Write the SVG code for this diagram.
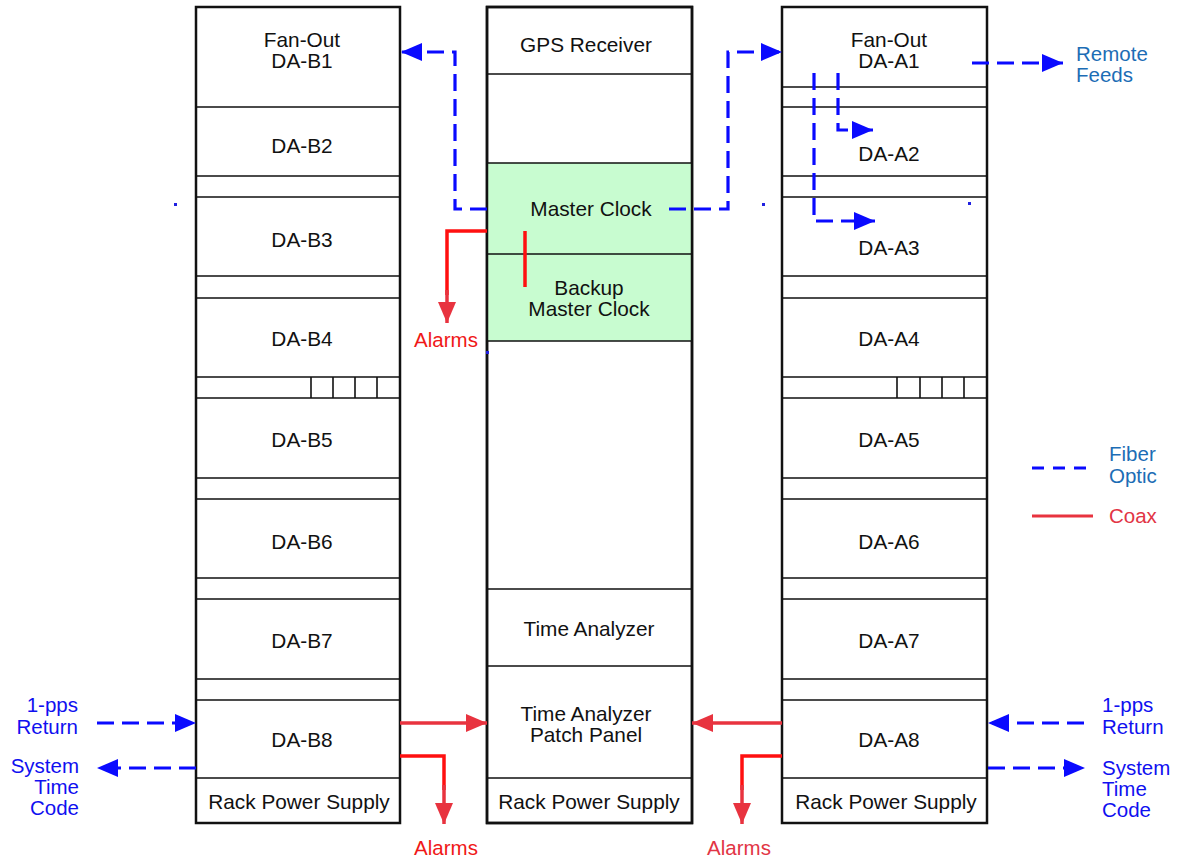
<svg xmlns="http://www.w3.org/2000/svg" width="1179" height="862" viewBox="0 0 1179 862">
<defs>
<style>
.frame{fill:none;stroke:#111;stroke-width:2.5}
.div{stroke:#111;stroke-width:1.6;fill:none}
.t{font-family:"Liberation Sans",Arial,Helvetica,sans-serif;font-size:20.8px;fill:#111;text-anchor:middle}
.lb{font-family:"Liberation Sans",Arial,Helvetica,sans-serif;font-size:20.5px;fill:#1010f0}
.lbs{font-family:"Liberation Sans",Arial,Helvetica,sans-serif;font-size:20.5px;fill:#1c6db5}
.lr{font-family:"Liberation Sans",Arial,Helvetica,sans-serif;font-size:20.5px;fill:#f01818;text-anchor:middle}
.lrc{font-family:"Liberation Sans",Arial,Helvetica,sans-serif;font-size:20.5px;fill:#e23545}
.fiber{fill:none;stroke:#0a0aff;stroke-width:3.2;stroke-dasharray:17 8}
.coax{fill:none;stroke:#e8333f;stroke-width:3.5}
.coaxb{fill:none;stroke:#ff1010;stroke-width:3.5}
</style>
<marker id="ab" markerUnits="userSpaceOnUse" markerWidth="22" markerHeight="20" refX="21" refY="9" orient="auto"><path d="M0,0 L21,9 L0,18 z" fill="#0a0aff"/></marker>
<marker id="ar" markerUnits="userSpaceOnUse" markerWidth="22" markerHeight="20" refX="21" refY="9" orient="auto"><path d="M0,0 L21,9 L0,18 z" fill="#e8333f"/></marker>
</defs>
<rect width="1179" height="862" fill="#fff"/>

<g id="rack-b">
<rect x="196" y="7" width="204" height="816" fill="#fff" class="frame"/>
<path class="div" d="M196,107H400M196,176H400M196,197H400M196,276H400M196,298H400M196,377H400M196,398H400M196,478H400M196,499H400M196,578H400M196,599H400M196,679H400M196,700H400M196,778H400M311,377V398M333,377V398M355,377V398M377,377V398"/>
<text class="t" x="302" y="47">Fan-Out</text><text class="t" x="302" y="68">DA-B1</text>
<text class="t" x="302" y="153">DA-B2</text>
<text class="t" x="302" y="247">DA-B3</text>
<text class="t" x="302" y="346">DA-B4</text>
<text class="t" x="302" y="447">DA-B5</text>
<text class="t" x="302" y="549">DA-B6</text>
<text class="t" x="302" y="648">DA-B7</text>
<text class="t" x="302" y="747">DA-B8</text>
<text class="t" x="299" y="809">Rack Power Supply</text>
</g>

<g id="rack-master">
<rect x="487" y="7" width="205" height="816" fill="#fff" class="frame"/>
<rect x="487" y="163" width="205" height="178" fill="#c8fcd0"/>
<path class="div" d="M487,74H692M487,163H692M487,254H692M487,341H692M487,589H692M487,666H692M487,778H692"/>
<rect x="487" y="7" width="205" height="816" class="frame"/>
<text class="t" x="586" y="52">GPS Receiver</text>
<text class="t" x="591" y="216">Master Clock</text>
<text class="t" x="589" y="295">Backup</text><text class="t" x="589" y="316">Master Clock</text>
<text class="t" x="589" y="636">Time Analyzer</text>
<text class="t" x="586" y="721">Time Analyzer</text><text class="t" x="586" y="742">Patch Panel</text>
<text class="t" x="589" y="809">Rack Power Supply</text>
</g>

<g id="rack-a">
<rect x="782" y="7" width="205" height="816" fill="#fff" class="frame"/>
<path class="div" d="M782,87H987M782,107H987M782,176H987M782,197H987M782,276H987M782,298H987M782,377H987M782,398H987M782,478H987M782,499H987M782,578H987M782,599H987M782,679H987M782,700H987M782,778H987M897,377V398M920,377V398M942,377V398M964,377V398"/>
<text class="t" x="889" y="47">Fan-Out</text><text class="t" x="889" y="68">DA-A1</text>
<text class="t" x="889" y="161">DA-A2</text>
<text class="t" x="889" y="255">DA-A3</text>
<text class="t" x="889" y="346">DA-A4</text>
<text class="t" x="889" y="447">DA-A5</text>
<text class="t" x="889" y="549">DA-A6</text>
<text class="t" x="889" y="648">DA-A7</text>
<text class="t" x="889" y="747">DA-A8</text>
<text class="t" x="886" y="809">Rack Power Supply</text>
</g>

<g id="connectors">
<path class="fiber" d="M487,209H455V52H401" marker-end="url(#ab)"/>
<path class="fiber" d="M669,209H728V52H782" marker-end="url(#ab)"/>
<path class="fiber" d="M838,73V130H873" marker-end="url(#ab)"/>
<path class="fiber" d="M814,73V221H875" marker-end="url(#ab)"/>
<path class="fiber" d="M972,63H1063" marker-end="url(#ab)"/>
<path class="fiber" d="M97,723H196" marker-end="url(#ab)"/>
<path class="fiber" d="M196,768H97" marker-end="url(#ab)"/>
<path class="fiber" d="M1084,723H988" marker-end="url(#ab)"/>
<path class="fiber" d="M988,768H1085" marker-end="url(#ab)"/>
<path class="coaxb" d="M487,231H447V295"/>
<path class="coax" d="M447,290V323" marker-end="url(#ar)"/>
<path class="coaxb" d="M525,231V287"/>
<path class="coax" d="M400,723H487" marker-end="url(#ar)"/>
<path class="coax" d="M782,723H692" marker-end="url(#ar)"/>
<path class="coaxb" d="M400,756H444V790"/>
<path class="coax" d="M444,785V824" marker-end="url(#ar)"/>
<path class="coaxb" d="M782,756H742V790"/>
<path class="coax" d="M742,785V824" marker-end="url(#ar)"/>
<rect x="174" y="203" width="3" height="3" fill="#2020e0"/>
<rect x="762" y="203" width="3" height="3" fill="#2020e0"/>
<rect x="968" y="202" width="3" height="3" fill="#2020e0"/>
<rect x="486" y="351" width="3" height="3" fill="#2020e0"/>
</g>

<g id="labels">
<text class="lr" x="446" y="347">Alarms</text>
<text class="lr" x="446" y="855">Alarms</text>
<text class="lrc" x="739" y="855" text-anchor="middle">Alarms</text>
<text class="lbs" x="1076" y="61">Remote</text><text class="lbs" x="1076" y="82">Feeds</text>
<text class="lb" x="78" y="712" text-anchor="end">1-pps</text><text class="lb" x="78" y="734" text-anchor="end">Return</text>
<text class="lb" x="79" y="773" text-anchor="end">System</text><text class="lb" x="79" y="794" text-anchor="end">Time</text><text class="lb" x="79" y="815" text-anchor="end">Code</text>
<text class="lb" x="1102" y="712">1-pps</text><text class="lb" x="1102" y="734">Return</text>
<text class="lb" x="1102" y="775">System</text><text class="lb" x="1102" y="796">Time</text><text class="lb" x="1102" y="817">Code</text>
</g>

<g id="legend">
<path d="M1032,468H1093" fill="none" stroke="#0a0aff" stroke-width="3.2" stroke-dasharray="12 9"/>
<text class="lbs" x="1109" y="461">Fiber</text><text class="lbs" x="1109" y="483">Optic</text>
<path d="M1032,516H1093" fill="none" stroke="#e8333f" stroke-width="3.2"/>
<text class="lrc" x="1109" y="523">Coax</text>
</g>
</svg>
